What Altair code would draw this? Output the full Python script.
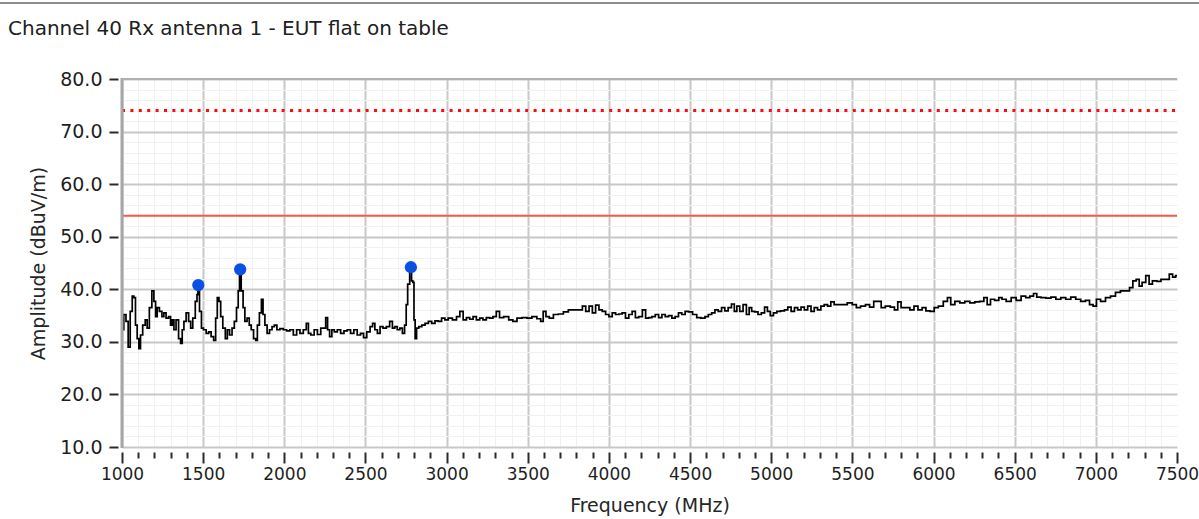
import altair as alt
import pandas as pd

# Measured spectrum trace (frequency in MHz, amplitude in dBuV/m)
freq_mhz = [
    1000, 1006, 1016, 1033, 1043, 1058, 1068, 1078, 1088, 1099, 1109, 1119, 1136, 1150, 1160, 1177,
    1191, 1202, 1212, 1222, 1239, 1253, 1263, 1280, 1294, 1304, 1315, 1325, 1341, 1356, 1366, 1376,
    1387, 1403, 1418, 1428, 1444, 1459, 1465, 1470, 1485, 1494, 1510, 1527, 1541, 1557, 1572, 1582,
    1592, 1603, 1613, 1629, 1644, 1654, 1671, 1685, 1699, 1712, 1720, 1728, 1741, 1751, 1763, 1778,
    1790, 1802, 1819, 1829, 1839, 1854, 1864, 1874, 1887, 1901, 1917, 1932, 1946, 1963, 1983, 2004,
    2024, 2045, 2066, 2086, 2107, 2127, 2144,
    2153, 2174, 2194, 2214, 2235, 2249, 2261, 2272, 2286, 2300, 2316, 2337, 2357, 2378, 2398, 2418,
    2439, 2459, 2480, 2496, 2520, 2537, 2551, 2565, 2582, 2598, 2618, 2639, 2659, 2673, 2688, 2704,
    2720, 2735, 2747, 2755, 2765, 2780, 2788, 2796, 2802, 2810, 2820, 2837, 2857, 2877, 2898, 2918,
    2939, 2959, 2979, 3000, 3020, 3051, 3071, 3092, 3112, 3132, 3153, 3173, 3194, 3214, 3234, 3255,
    3275, 3296, 3316, 3336, 3367,
    3398, 3418, 3449, 3480, 3510, 3541, 3571, 3588, 3602, 3622, 3643, 3673, 3704, 3735, 3765, 3796,
    3826, 3847, 3867, 3888, 3908, 3928, 3949, 3969, 3990, 4010, 4031, 4051, 4071, 4092, 4112, 4133,
    4153, 4173, 4194, 4218, 4234, 4255, 4275, 4296, 4316, 4337, 4357, 4378, 4398, 4418, 4439, 4459,
    4480, 4500, 4531, 4551, 4582, 4602, 4623, 4643, 4663, 4684, 4704, 4724, 4745, 4765, 4780, 4796,
    4816, 4837, 4857, 4871, 4888, 4908, 4929, 4949, 4969, 4984, 5004, 5024, 5045, 5071, 5092, 5112,
    5133, 5153, 5173, 5194, 5214, 5235, 5255, 5275, 5296, 5316, 5337, 5357, 5377, 5398,
    5422, 5453, 5484, 5514, 5535, 5565, 5596, 5616, 5647, 5667, 5688, 5718, 5749, 5769, 5790, 5810,
    5841, 5867, 5892, 5916, 5943, 5963, 5994, 6014, 6045, 6075, 6096, 6116, 6147, 6177, 6208, 6239,
    6269, 6300, 6320, 6341, 6361, 6392, 6412, 6432, 6463, 6494, 6524, 6555, 6581, 6606, 6626, 6646,
    6677, 6708, 6738, 6769, 6799, 6830, 6861, 6891, 6922, 6949, 6973, 6993, 7014, 7044, 7075, 7106,
    7136, 7167, 7197, 7218, 7238, 7259, 7275, 7295, 7320, 7336, 7361, 7391, 7411, 7442, 7463, 7483,
    7500,
]
amplitude = [
    33.5, 32.3, 35.2, 33.9, 29.0, 35.8, 38.7, 38.4, 33.2, 30.6, 28.7, 31.3, 33.2, 34.2, 32.6, 36.5,
    39.7, 37.7, 34.8, 36.5, 35.8, 34.8, 35.5, 34.5, 34.8, 33.2, 34.2, 32.3, 34.2, 30.6, 29.7, 32.3,
    33.9, 35.5, 33.9, 32.6, 34.5, 37.7, 39.0, 40.8, 35.8, 32.6, 32.3, 31.6, 31.9, 31.0, 30.3, 34.5,
    38.4, 37.7, 34.8, 32.6, 30.6, 32.3, 31.3, 32.6, 33.9, 36.5, 39.7, 43.8, 39.7, 36.5, 33.9, 34.5,
    33.2, 32.3, 30.6, 30.3, 33.2, 35.5, 38.1, 35.2, 33.2, 31.6, 32.3, 32.9, 33.2, 32.3, 32.5, 32.3,
    32.1, 32.3, 31.3, 32.3, 31.6, 32.3, 33.5,
    31.6, 31.3, 32.3, 31.4, 32.6, 32.6, 34.6, 32.3, 31.0, 32.3, 31.9, 32.3, 31.6, 32.1, 32.3, 31.6,
    32.3, 31.3, 31.6, 30.8, 31.9, 32.9, 33.5, 32.3, 31.6, 32.9, 32.6, 32.9, 33.9, 32.6, 32.9, 32.3,
    32.6, 31.6, 33.2, 37.1, 41.0, 44.2, 41.6, 41.3, 34.2, 30.6, 32.6, 32.9, 33.2, 33.5, 33.9, 33.5,
    34.0, 33.9, 34.5, 34.2, 34.5, 34.2, 34.8, 35.8, 34.2, 34.6, 34.3, 34.8, 34.2, 34.5, 34.2, 34.6,
    34.5, 34.8, 35.8, 34.6, 34.8,
    34.2, 33.9, 34.5, 34.6, 34.5, 34.8, 34.4, 33.9, 35.8, 34.8, 34.5, 35.2, 35.3, 35.7, 36.1, 36.1,
    36.1, 36.8, 35.8, 36.8, 35.5, 37.0, 36.1, 35.8, 35.2, 34.8, 35.5, 35.2, 35.3, 35.5, 34.5, 35.2,
    35.8, 34.6, 34.8, 36.1, 34.5, 34.6, 34.8, 35.2, 34.6, 35.2, 34.8, 35.0, 34.5, 34.8, 35.5, 35.2,
    35.8, 35.7, 35.2, 34.6, 34.5, 34.8, 35.2, 35.5, 36.1, 35.8, 36.5, 35.9, 36.5, 37.2, 35.8, 36.8,
    35.8, 37.1, 35.2, 36.5, 35.8, 35.7, 35.2, 35.5, 36.6, 35.8, 35.0, 35.5, 35.8, 35.9, 36.1, 36.6,
    35.8, 36.5, 36.1, 36.6, 36.1, 36.8, 35.8, 36.5, 36.1, 36.8, 37.1, 36.8, 37.6, 37.1,
    37.1, 37.1, 37.4, 37.1, 36.5, 36.8, 37.1, 36.6, 37.7, 37.7, 36.5, 36.8, 36.6, 36.1, 37.6, 36.5,
    36.5, 36.1, 36.8, 36.1, 36.5, 35.9, 35.8, 36.5, 36.8, 37.7, 38.4, 37.1, 37.7, 37.4, 37.7, 37.4,
    37.6, 37.7, 38.4, 37.1, 38.1, 37.9, 38.4, 38.1, 37.7, 38.4, 37.9, 38.7, 38.4, 38.7, 39.2, 38.5,
    38.4, 38.3, 38.5, 38.1, 38.4, 38.1, 38.5, 38.1, 37.7, 37.9, 37.1, 36.8, 38.1, 37.7, 38.4, 38.7,
    39.4, 39.7, 39.7, 40.3, 41.6, 41.9, 40.6, 41.3, 42.6, 41.0, 41.6, 41.5, 41.9, 41.9, 42.9, 42.3,
    42.6,
]

# Peak markers
peak_freq = [1470, 1728, 2780]
peak_amp = [40.8, 43.8, 44.2]

# Limit lines (peak and average)
peak_limit = [74.0]
avg_limit = [54.0]

# Axis tick positions
x_ticks = list(range(1000, 7501, 100))
y_ticks = list(range(10, 81, 2))

W, H = 1055, 368
FONT = "DejaVu Sans"

trace = pd.DataFrame({"f": freq_mhz, "a": amplitude})
peaks = pd.DataFrame({"f": peak_freq, "a": peak_amp})
one = pd.DataFrame({"k": [0]})

xscale = alt.Scale(domain=[1000, 7500], nice=False, zero=False)
yscale = alt.Scale(domain=[10, 80], nice=False, zero=False)

x_axis = alt.Axis(
    values=x_ticks,
    title="Frequency (MHz)",
    labelExpr="datum.value % 500 === 0 ? format(datum.value, 'd') : ''",
    labelOverlap=False,
    labelFlush=False,
    labelFont=FONT,
    labelFontSize=17,
    labelColor="#1e1e1e",
    labelPadding=3,
    domain=False,
    offset=5,
    tickColor="#2a2a2a",
    tickWidth=2,
    tickSize={"condition": {"test": "datum.value % 500 === 0", "value": 11}, "value": 6},
    grid=True,
    gridColor={"condition": {"test": "datum.value % 500 === 0", "value": "#c8c8c8"}, "value": "#f1f1f1"},
    gridWidth={"condition": {"test": "datum.value % 500 === 0", "value": 2}, "value": 1},
    gridOpacity={"condition": {"test": "datum.value >= 7500", "value": 0}, "value": 1},
    titleFont=FONT,
    titleFontSize=19,
    titleFontWeight="normal",
    titleColor="#262626",
    titleBaseline="middle",
    titleY=53,
)

y_axis = alt.Axis(
    values=y_ticks,
    title="Amplitude (dBuV/m)",
    labelExpr="datum.value % 10 === 0 ? format(datum.value, '.1f') : ''",
    labelOverlap=False,
    labelFlush=False,
    labelFont=FONT,
    labelFontSize=19,
    labelColor="#1e1e1e",
    labelPadding=7,
    domain=False,
    offset=4,
    tickColor="#2a2a2a",
    tickWidth=2,
    tickSize=9,
    tickOpacity={"condition": {"test": "datum.value % 10 === 0", "value": 1}, "value": 0},
    grid=True,
    gridColor={"condition": {"test": "datum.value % 10 === 0", "value": "#c8c8c8"}, "value": "#f1f1f1"},
    gridWidth={"condition": {"test": "datum.value % 10 === 0", "value": 2}, "value": 1},
    titleFont=FONT,
    titleFontSize=19,
    titleFontWeight="normal",
    titleColor="#262626",
    titleBaseline="middle",
    titleX=-80,
    titleY=H / 2,
)

X = alt.X("f:Q", scale=xscale, axis=x_axis)
Y = alt.Y("a:Q", scale=yscale, axis=y_axis)

line = alt.Chart(trace).mark_line(
    color="#000000", strokeWidth=1.7, interpolate="step", clip=True
).encode(x=X, y=Y)

peak_rule = alt.Chart(pd.DataFrame({"a": peak_limit})).mark_rule(
    color="#ff0a0a", strokeWidth=3, strokeDash=[3, 5.4]
).encode(y=Y, x=alt.value(0), x2=alt.value(W))

avg_rule = alt.Chart(pd.DataFrame({"a": avg_limit})).mark_rule(
    color="#ff5544", strokeWidth=2
).encode(y=Y, x=alt.value(0), x2=alt.value(W))

markers = alt.Chart(peaks).mark_circle(size=150, color="#0a50e6", opacity=1).encode(x=X, y=Y)

# Plot frame: left and top borders
left_border = alt.Chart(one).mark_rule(color="#a6a6a6", strokeWidth=3).encode(
    x=alt.value(0), y=alt.value(-1), y2=alt.value(H + 1)
)
top_border = alt.Chart(one).mark_rule(color="#b0b0b0", strokeWidth=2).encode(
    x=alt.value(0), x2=alt.value(W), y=alt.value(0)
)
header_line = alt.Chart(one).mark_rule(color="#8c8c8c", strokeWidth=2).encode(
    x=alt.value(-122), x2=alt.value(W + 22), y=alt.value(-76)
)

title = alt.Chart(one).mark_text(
    align="left", baseline="middle", font=FONT, fontSize=20, color="#202020",
    text="Channel 40 Rx antenna 1 - EUT flat on table",
).encode(x=alt.value(-114), y=alt.value(-50))

chart = alt.layer(
    line, peak_rule, avg_rule, markers, left_border, top_border, header_line, title
).properties(
    width=W,
    height=H,
    autosize=alt.AutoSizeParams(type="none"),
    padding={"left": 122, "top": 79, "right": 22, "bottom": 72},
    background="white",
).configure_view(stroke=None)

chart.save("out.html", embed_options={"renderer": "svg", "actions": False})
